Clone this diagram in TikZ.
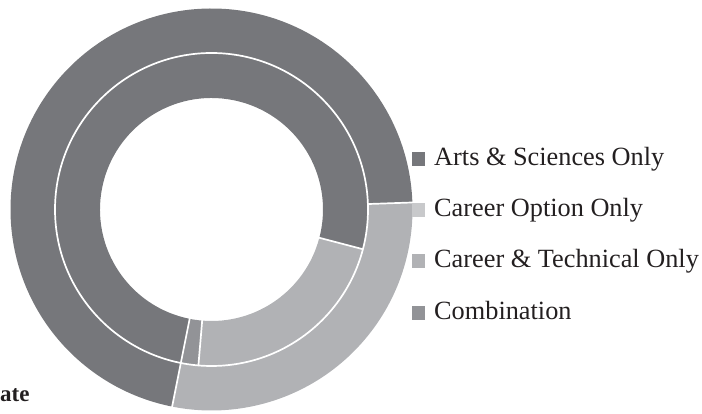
\documentclass[tikz,border=0pt]{standalone}
\usepackage{fontspec}
\setmainfont{Liberation Serif}
\usetikzlibrary{calc}
\definecolor{artsc}{RGB}{118,119,123}
\definecolor{optc}{RGB}{200,201,203}
\definecolor{techc}{RGB}{177,178,181}
\definecolor{combc}{RGB}{146,147,151}
\definecolor{txtc}{RGB}{35,31,32}
\newcommand\ringseg[5]{% color, r1, r2, a1, a2
  \fill[#1] ($(c)+(#4:#3pt)$) arc[start angle=#4,end angle=#5,radius=#3pt]
    -- ($(c)+(#5:#2pt)$) arc[start angle=#5,end angle=#4,radius=#2pt] -- cycle;}
\begin{document}
\begin{tikzpicture}[x=1pt,y=1pt,
  legbox/.style={minimum size=13.5pt, inner sep=0pt, outer sep=0pt, anchor=south west},
  legtext/.style={anchor=base west, inner sep=0pt, text=txtc, font=\fontsize{26.3}{30}\selectfont},
  sep/.style={white, line width=1.7pt}]
\useasboundingbox (0,0) rectangle (702,414);
\coordinate (c) at (211.5,204.5);
\def\Ro{201}\def\Rm{156.5}\def\Ri{111.5}
% outer ring
\ringseg{artsc}{\Rm}{\Ro}{2}{258.7}
\ringseg{techc}{\Rm}{\Ro}{-101.3}{2}
% inner ring
\ringseg{artsc}{\Ri}{\Rm}{-14.7}{258.7}
\ringseg{combc}{\Ri}{\Rm}{258.7}{265.2}
\ringseg{techc}{\Ri}{\Rm}{-94.8}{-14.7}
% separators
\draw[sep] (c) circle[radius=\Rm pt];
\draw[sep] ($(c)+(2:\Rm pt)$) -- ($(c)+(2:\Ro pt+1pt)$);
\draw[sep] ($(c)+(-101.3:\Rm pt)$) -- ($(c)+(-101.3:\Ro pt+1pt)$);
\draw[sep] ($(c)+(-14.7:\Ri pt-1pt)$) -- ($(c)+(-14.7:\Rm pt)$);
\draw[sep] ($(c)+(-101.3:\Ri pt-1pt)$) -- ($(c)+(-101.3:\Rm pt)$);
\draw[sep] ($(c)+(-94.8:\Ri pt-1pt)$) -- ($(c)+(-94.8:\Rm pt)$);
% legend
\node[legbox, fill=artsc] (k1) at (411.7,248) {};
\node[legtext] (t1) at (434,248) {Arts \& Sciences Only};
\node[legbox, fill=optc] (k2) at (411.7,197) {};
\node[legtext] (t2) at (434,197) {Career Option Only};
\node[legbox, fill=techc] (k3) at (411.7,146) {};
\node[legtext] (t3) at (434,146) {Career \& Technical Only};
\node[legbox, fill=combc] (k4) at (411.7,94) {};
\node[legtext] (t4) at (434,94) {Combination};
% cut title
\node[anchor=base west, inner sep=0pt, text=txtc, font=\bfseries\fontsize{23}{26}\selectfont] (ttl) at (0,12) {ate};
\end{tikzpicture}
\end{document}
